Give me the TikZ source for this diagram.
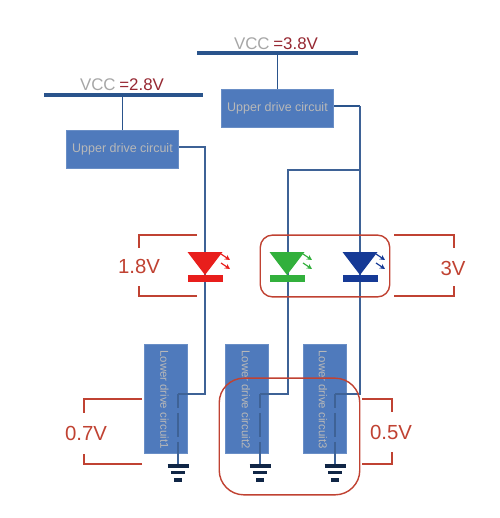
\documentclass[tikz,border=0pt]{standalone}
\usepackage{xcolor}
\usepackage{fontspec}
\setmainfont{Liberation Sans}
\usetikzlibrary{arrows.meta,calc}
\definecolor{wireblue}{RGB}{62,98,150}
\definecolor{barblue}{RGB}{42,84,140}
\definecolor{boxblue}{RGB}{79,122,188}
\definecolor{tagred}{RGB}{192,66,50}
\definecolor{voltred}{RGB}{150,40,50}
\definecolor{ledred}{RGB}{232,30,28}
\definecolor{ledgreen}{RGB}{50,176,60}
\definecolor{ledblue}{RGB}{22,58,150}
\definecolor{gndblue}{RGB}{16,38,70}
\tikzset{
  rail/.style={line width=1.9pt, barblue},
  wire/.style={line width=0.7pt, wireblue},
  tapwire/.style={line width=1pt, barblue},
  drive/.style={draw=boxblue!85!white, fill=boxblue, minimum width=64pt, minimum height=21.5pt,
                inner sep=0pt, font=\fontsize{7.1}{8}\selectfont, text=black!28},
  lower/.style={draw=boxblue!85!white, fill=boxblue, minimum width=24.4pt, minimum height=62.4pt,
                inner sep=0pt},
  lowertxt/.style={rotate=-90, font=\fontsize{6.5}{8}\selectfont, text=black!28},
  tag/.style={line width=1.3pt, tagred},
  thintag/.style={line width=0.7pt, tagred},
  group/.style={draw=tagred, line width=0.8pt},
  volt/.style={font=\fontsize{11.6}{12}\selectfont, text=tagred},
  vcc/.style={font=\fontsize{9.6}{12}\selectfont, text=black!35, inner sep=0pt},
  vccval/.style={font=\fontsize{9.6}{12}\selectfont, text=voltred, inner sep=0pt},
  gndbar/.style={line width=2pt, gndblue},
  ray/.style={-{Stealth[length=3pt,width=3pt]}, line width=0.7pt}
}
% one LED: #1 name, #2 colour
\newcommand{\ledmark}[2]{
  \fill[#2] ($(#1)+(-17.5,-23)$) -- ($(#1)+(17.5,-23)$) -- (#1) -- cycle;
  \fill[#2] ($(#1)+(-17.5,0)$) rectangle ($(#1)+(17.5,7)$);
  \draw[ray, #2] ($(#1)+(16,-21)$) -- ++(9,6);
  \draw[ray, #2] ($(#1)+(16,-12)$) -- ++(9,6);
}
% ground symbol
\newcommand{\gndmark}[1]{
  \draw[gndbar] ($(#1)+(-10.5,0)$) -- ($(#1)+(10.5,0)$);
  \draw[gndbar] ($(#1)+(-7,6.7)$) -- ($(#1)+(7,6.7)$);
  \draw[gndbar] ($(#1)+(-4,14)$) -- ($(#1)+(4,14)$);
}
\begin{document}
\begin{tikzpicture}[x=0.02cm,y=-0.02cm]
  \useasboundingbox (0,0) rectangle (500,518);
  % supply rails
  \coordinate (railaw) at (44,95);
  \coordinate (railae) at (203,95);
  \coordinate (railbw) at (197,53);
  \coordinate (railbe) at (358,53);
  \draw[rail] (railaw) -- (railae);
  \draw[rail] (railbw) -- (railbe);
  \node[vcc, anchor=base east] (vcca) at (116,90) {VCC};
  \node[vccval, anchor=base west] (volta) at (119,90) {=2.8V};
  \node[vcc, anchor=base east] (vccb) at (270,49) {VCC};
  \node[vccval, anchor=base west] (voltb) at (273,49) {=3.8V};
  % upper drivers
  \node[drive] (upa) at (122.5,149) {Upper drive circuit};
  \node[drive] (upb) at (277.5,108) {Upper drive circuit};
  \coordinate (tapa) at (122.5,95);
  \coordinate (tapb) at (277.5,53);
  \draw[tapwire] (tapa) -- (upa.north);
  \draw[tapwire] (tapb) -- (upb.north);
  % lower drivers
  \node[lower] (lowa) at (165.5,399) {};
  \node[lower] (lowb) at (247,399) {};
  \node[lower] (lowc) at (324.5,399) {};
  \node[lowertxt] (txta) at (164.5,399.5) {Lower drive circuit1};
  \node[lowertxt] (txtb) at (246,399.5) {Lower drive circuit2};
  \node[lowertxt] (txtc) at (323,399.5) {Lower drive circuit3};
  % wires
  \coordinate (leda) at (205,275);
  \coordinate (ledb) at (287,275);
  \coordinate (ledc) at (360,275);
  \coordinate (gnda) at (178,466);
  \coordinate (gndb) at (260,466);
  \coordinate (gndc) at (335,466);
  \coordinate (split) at (360,170);
  \draw[wire] (upa.east |- 0,147) -| (205,394) -- (178,394);
  \draw[tapwire] (upb.east |- 0,106) -- (360,106);
  \draw[wire] (360,106) -- (360,394) -- (335,394);
  \draw[wire] (split) -- (288,170) -- (288,394) -- (260,394);
  \foreach \g in {gnda,gndb,gndc}
    \draw[wire, line width=1pt, dash pattern=on 8pt off 2.8pt on 13.6pt off 2.8pt on 30pt] (\g |- 0,394) -- (\g);
  % LEDs
  \ledmark{leda}{ledred}
  \ledmark{ledb}{ledgreen}
  \ledmark{ledc}{ledblue}
  % grounds
  \gndmark{gnda}
  \gndmark{gndb}
  \gndmark{gndc}
  % groups
  \node[group, rounded corners=7pt, minimum width=73.7pt, minimum height=35.2pt, inner sep=0pt] (ledgroup) at (325,266) {};
  \node[group, rounded corners=14pt, minimum width=80pt, minimum height=66.4pt, inner sep=0pt] (lowgroup) at (289.5,436.5) {};
  % voltage brackets
  \draw[tag] (197,235) -- (139,235) -- (139,248);
  \draw[tag] (197,296) -- (139,296) -- (139,286);
  \node[volt] (va) at (139,266) {1.8V};
  \draw[tag] (394,235) -- (454,235) -- (454,248);
  \draw[tag] (394,296) -- (454,296) -- (454,286);
  \node[volt] (vb) at (453,268) {3V};
  \draw[tag] (142,399) -- (84,399) -- (84,413);
  \draw[tag] (142,464) -- (84,464) -- (84,454);
  \node[volt] (vc) at (86,433) {0.7V};
  \draw[thintag] (362,399) -- (392,399) -- (392,412);
  \draw[thintag] (362,464) -- (392,464) -- (392,452);
  \node[volt] (vd) at (391,432) {0.5V};
\end{tikzpicture}
\end{document}
